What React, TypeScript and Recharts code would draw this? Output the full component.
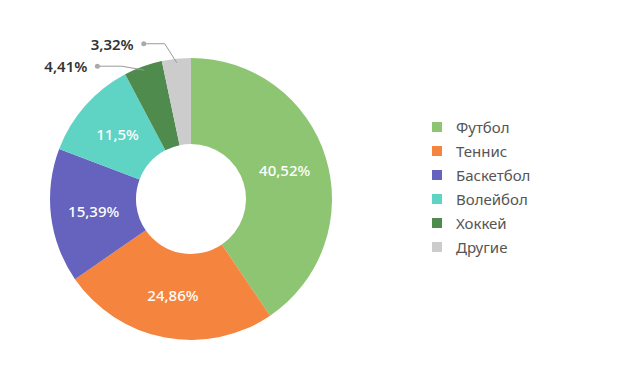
import React from 'react'
import { PieChart, Pie, Cell } from 'recharts'

const SPORTS = ['Футбол', 'Теннис', 'Баскетбол', 'Волейбол', 'Хоккей', 'Другие']
const SHARES = [40.52, 24.86, 15.39, 11.5, 4.41, 3.32]
const COLORS = ['#8dc572', '#f5843e', '#6563be', '#5fd3c4', '#4e8b4c', '#cccccc']

const data = SPORTS.map((name, i) => ({ name, value: SHARES[i] }))

const RAD = Math.PI / 180
const fmt = (v: number) => String(v).replace('.', ',') + '%'

// slices too small for an inside label get a callout to the upper left
const CALLOUT: Record<number, { dx: number; dy: number; len: number }> = {
  4: { dx: -23, dy: -4, len: 24 },
  5: { dx: -12, dy: -19, len: 21 },
}

const renderLabel = (props: any) => {
  const { cx, cy, innerRadius, outerRadius, midAngle, index, value } = props
  const cos = Math.cos(-midAngle * RAD)
  const sin = Math.sin(-midAngle * RAD)
  const c = CALLOUT[index]
  if (!c) {
    const r = (innerRadius + outerRadius) / 2
    return (
      <text x={cx + r * cos} y={cy + r * sin} fill="#fff" textAnchor="middle" dominantBaseline="central"
        fontSize={15} fontWeight={500} fontFamily="'Noto Sans', sans-serif">
        {fmt(value)}
      </text>
    )
  }
  const sx = cx + (outerRadius - 4) * cos
  const sy = cy + (outerRadius - 4) * sin
  const ex = sx + c.dx
  const ey = sy + c.dy
  const dx = ex - c.len
  return (
    <g>
      <polyline points={`${sx},${sy} ${ex},${ey} ${dx},${ey}`} fill="none" stroke="#999" strokeWidth={1} />
      <circle cx={dx} cy={ey} r={2.5} fill="#aaa" />
      <text x={dx - 10} y={ey} fill="#333" textAnchor="end" dominantBaseline="central"
        fontSize={15} fontWeight={600} fontFamily="'Noto Sans', sans-serif">
        {fmt(value)}
      </text>
    </g>
  )
}

const LegendBox = () => (
  <div style={{ position: 'absolute', left: 432, top: 115, fontFamily: "'Noto Sans', sans-serif", fontSize: 15, color: '#555' }}>
    {SPORTS.map((s, i) => (
      <div key={s} style={{ display: 'flex', alignItems: 'center', height: 24 }}>
        <span style={{ width: 10, height: 10, background: COLORS[i], marginRight: 14 }} />
        <span>{s}</span>
      </div>
    ))}
  </div>
)

export default function App() {
  return (
    <div style={{ position: 'absolute', left: 0, top: 0, width: 618, height: 388, background: '#fff' }}>
      <PieChart width={618} height={388} margin={{ top: 0, right: 0, bottom: 0, left: 0 }}>
        <Pie
          data={data}
          dataKey="value"
          nameKey="name"
          cx={191}
          cy={199}
          innerRadius={55}
          outerRadius={141}
          startAngle={90}
          endAngle={-270}
          stroke="none"
          label={renderLabel}
          labelLine={false}
          isAnimationActive={false}
        >
          {data.map((d, i) => (
            <Cell key={d.name} fill={COLORS[i]} />
          ))}
        </Pie>
      </PieChart>
      <LegendBox />
    </div>
  )
}
